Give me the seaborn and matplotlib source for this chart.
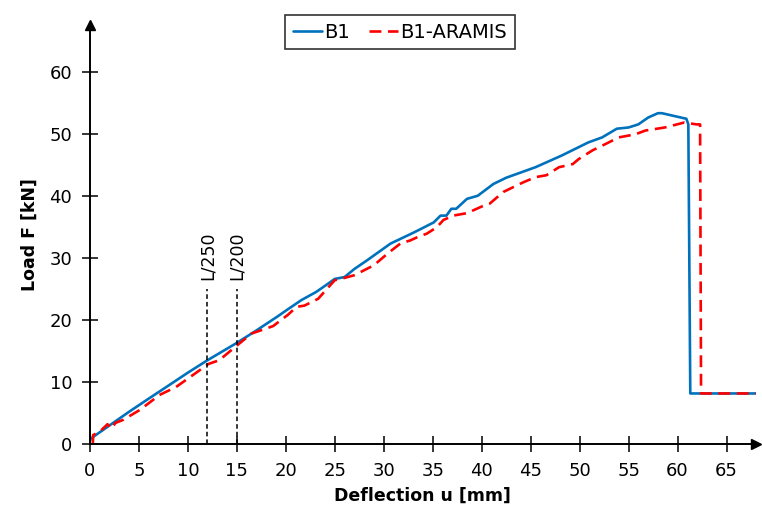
import matplotlib
matplotlib.use('Agg')

import matplotlib.pyplot as plt
import seaborn as sns
import pandas as pd

# B1 (measured)
b1_u = [0, 0.1, 2, 4, 5.7, 8, 10, 12, 15, 17, 19.2, 20.2, 21.6, 23.1, 24.1, 25.0, 26.0,
        27.0, 28.3, 30.7, 33.1, 35.1, 35.8, 36.4, 36.9, 37.4, 38.5, 39.6, 41.2, 42.5,
        45.5, 48.2, 50.9, 52.3, 53.8, 55.0, 56.0, 57.0, 58.0, 58.4, 60.9, 61.1, 61.3, 68]
b1_F = [0.5, 0.9, 3.0, 5.2, 7.0, 9.4, 11.5, 13.5, 16.3, 18.3, 20.6, 21.7, 23.2, 24.5,
        25.6, 26.6, 26.9, 28.2, 29.6, 32.3, 34.1, 35.7, 36.8, 36.8, 37.9, 37.9, 39.5,
        40.0, 41.9, 42.9, 44.6, 46.5, 48.6, 49.4, 50.8, 51.0, 51.5, 52.6, 53.3, 53.3,
        52.4, 51.5, 8.15, 8.15]

# B1-ARAMIS (DIC)
ar_u = [0.3, 0.33, 1.0, 1.8, 2.2, 2.6, 3.4, 5.1, 7.1, 8.8, 10.5, 12.1, 13.2, 14.8, 16.5,
        18.7, 20.2, 21.1, 21.9, 23.3, 25.0, 25.6, 27.0, 29.0, 30.4, 31.7, 32.7, 33.4,
        34.4, 35.4, 36.1, 37.1, 38.5, 40.2, 40.8, 42.2, 43.5, 44.3, 45.5, 46.6, 47.9,
        49.3, 49.9, 51.3, 52.6, 54.0, 55.7, 56.7, 58.7, 60.7, 61.9, 62.3, 62.4, 68]
ar_F = [0, 1.45, 2.0, 3.2, 2.5, 3.4, 3.9, 5.5, 7.9, 9.2, 11.1, 12.9, 13.5, 15.6, 17.8,
        19.0, 20.8, 22.1, 22.3, 23.4, 26.4, 26.6, 27.2, 28.8, 30.7, 32.3, 32.8, 33.3,
        33.9, 34.9, 36.1, 36.8, 37.2, 38.4, 38.7, 40.6, 41.6, 42.2, 43.0, 43.3, 44.6,
        45.1, 45.9, 47.3, 48.3, 49.4, 49.9, 50.5, 51.0, 51.8, 51.5, 51.5, 8.15, 8.15]

limits_u = [12, 15]
limits_lbl = ['L/250', 'L/200']

sns.set_style('ticks')
plt.rcParams['font.family'] = ['DejaVu Sans']
plt.rcParams['text.color'] = 'black'
plt.rcParams['axes.labelcolor'] = 'black'

fig = plt.figure(figsize=(7.62, 5.11), dpi=100)
ax = fig.add_axes([0.118, 0.131, 0.874, 0.82])

df_b1 = pd.DataFrame({'u': b1_u, 'F': b1_F})
df_ar = pd.DataFrame({'u': ar_u, 'F': ar_F})
sns.lineplot(data=df_b1, x='u', y='F', sort=False, color='#0072BD', lw=1.9,
             label='B1', ax=ax)
sns.lineplot(data=df_ar, x='u', y='F', sort=False, color='#FF0000', lw=1.9,
             dashes=False, linestyle=(0, (4.5, 2.5)), label='B1-ARAMIS', ax=ax)

ax.vlines(limits_u, 0, 25, colors='black', linestyles=(0, (3, 2)), lw=1.1)
for u, t in zip(limits_u, limits_lbl):
    ax.text(u, 26.5, t, rotation=90, ha='center', va='bottom', fontsize=12.5)

ax.set_xlim(0, 68)
ax.set_ylim(0, 67.5)
ax.set_xticks(range(0, 70, 5))
ax.set_yticks(range(0, 70, 10))
ax.spines['top'].set_visible(False)
ax.spines['right'].set_visible(False)
for s in ['left', 'bottom']:
    ax.spines[s].set_linewidth(1.4)
    ax.spines[s].set_color('black')
ax.tick_params(direction='inout', length=11.5, width=1.1, labelsize=13, pad=7,
               colors='black')

# axis arrows
ax.plot(0, 1, '^k', ms=7, transform=ax.get_xaxis_transform(), clip_on=False)
ax.plot(1, 0, '>k', ms=7, transform=ax.get_yaxis_transform(), clip_on=False)

ax.set_xlabel('Deflection u [mm]', fontsize=12.5, fontweight='bold', labelpad=5)
ax.set_ylabel('Load F [kN]', fontsize=12.5, fontweight='bold', labelpad=8)

ax.legend_.remove()
h, l = ax.get_legend_handles_labels()
leg = fig.legend(h, l, loc='center', bbox_to_anchor=(0.525, 0.937), ncol=2,
                 fontsize=14, frameon=True, fancybox=False, handlelength=1.5,
                 handletextpad=0.1, columnspacing=1.0, borderpad=0.4)
leg.get_frame().set_edgecolor('black')
leg.get_frame().set_linewidth(1.2)

fig.savefig('out.png', dpi=100)
